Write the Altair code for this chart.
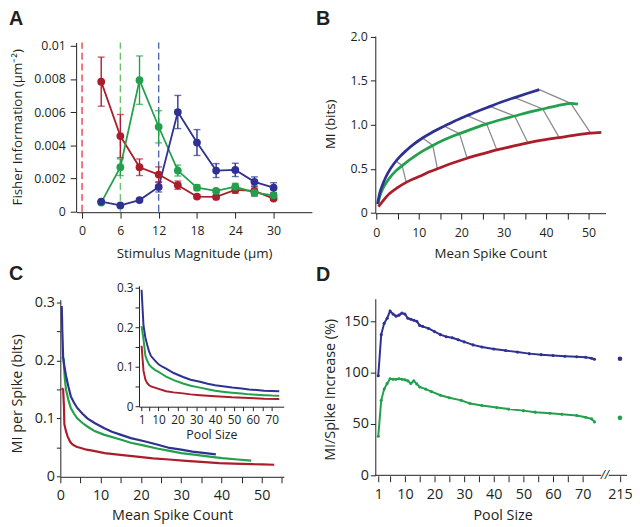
import altair as alt
import pandas as pd

OX, OY = 8, 8
W, H = 632, 517
FONT = "Open Sans"
INK = "#231f20"
RED, GREEN, BLUE = "#ac1d2b", "#22a04b", "#2e3192"
RED_D, GREEN_D, BLUE_D = "#e8404e", "#6cc070", "#4f66b5"
GRAY = "#8c8c8c"

# ---------------- Panel A: Fisher information vs stimulus magnitude
stim = [3, 6, 9, 12, 15, 18, 21, 24, 27, 30]
fi_red = [0.00784, 0.00456, 0.00268, 0.00224, 0.0016, 0.00091, 0.00089, 0.00131, 0.00125, 0.00079]
err_red = [0.00148, 0.0013, 0.0005, 0.00046, 0.00025, 0.0001, 0.0001, 0.0002, 0.0003, 0.0001]
fi_green = [0.00055, 0.00268, 0.00793, 0.00512, 0.00248, 0.00145, 0.00125, 0.00151, 0.00115, 0.00099]
err_green = [0.0001, 0.0005, 0.00146, 0.00097, 0.00033, 0.00017, 0.0001, 0.0002, 0.0002, 0.0001]
fi_blue = [0.00061, 0.00038, 0.0007, 0.00149, 0.00601, 0.00417, 0.00248, 0.00252, 0.0018, 0.00145]
err_blue = [0.0, 0.0, 0.0, 0.0003, 0.001, 0.00078, 0.00042, 0.0004, 0.0003, 0.0003]
thresholds = [0, 6, 12]

# ---------------- Panel B: MI vs mean spike count
bx_blue = [0.3, 0.8, 1.5, 2.2, 3.2, 4.2, 5.5, 7.0, 9.0, 10.9, 13.0, 16.0, 18.5, 21.4, 24.0, 26.8, 29.5, 32.6, 35.5, 38.4]
by_blue = [0.10, 0.22, 0.32, 0.40, 0.49, 0.56, 0.635, 0.705, 0.785, 0.85, 0.91, 0.985, 1.044, 1.105, 1.158, 1.21, 1.259, 1.31, 1.356, 1.40]
bx_green = [0.4, 0.85, 1.5, 2.2, 3.2, 4.5, 6.1, 7.0, 9.0, 10.9, 13.3, 16.0, 19.6, 23.0, 26.0, 29.5, 32.6, 36.0, 39.2, 42.5, 45.8, 47.5]
by_green = [0.10, 0.19, 0.27, 0.33, 0.40, 0.47, 0.535, 0.57, 0.64, 0.70, 0.765, 0.83, 0.90, 0.96, 1.01, 1.06, 1.10, 1.145, 1.18, 1.215, 1.245, 1.235]
bx_red = [0.5, 1.5, 3.2, 5.0, 7.05, 9.0, 10.9, 12.5, 14.4, 18.0, 21.4, 25.0, 28.4, 32.0, 35.7, 39.0, 43.1, 46.5, 50.5, 53.0]
by_red = [0.07, 0.13, 0.22, 0.285, 0.345, 0.39, 0.43, 0.465, 0.50, 0.565, 0.62, 0.67, 0.715, 0.755, 0.795, 0.825, 0.855, 0.88, 0.905, 0.915]
conn_x = [[4.6, 6.1, 7.05], [10.9, 13.3, 14.4], [16.0, 19.6, 21.4], [21.4, 26.0, 28.4],
          [26.8, 32.6, 35.7], [32.6, 39.2, 43.1], [38.4, 45.8, 50.5]]
conn_y = [[0.59, 0.535, 0.345], [0.85, 0.765, 0.50], [0.985, 0.90, 0.62], [1.105, 1.01, 0.715],
          [1.21, 1.10, 0.795], [1.31, 1.18, 0.855], [1.40, 1.245, 0.905]]

# ---------------- Panel C: MI per spike vs mean spike count
cx_blue = [0.35, 0.5, 0.7, 1.0, 1.4, 2.0, 2.6, 3.4, 4.2, 5.5, 6.7, 8.5, 10.8, 12.8, 14.9, 17.5, 20.6, 24.0, 27.1, 30.0, 32.8, 36.0, 38.6]
cy_blue = [0.294, 0.25, 0.205, 0.19, 0.174, 0.155, 0.138, 0.127, 0.118, 0.108, 0.100, 0.092, 0.0835, 0.077, 0.072, 0.066, 0.061, 0.055, 0.049, 0.046, 0.0426, 0.040, 0.038]
cx_green = [0.4, 0.8, 1.1, 1.4, 2.0, 2.6, 3.4, 4.2, 5.5, 6.7, 8.5, 10.8, 14.9, 17.5, 20.6, 24.0, 27.1, 30.0, 33.7, 37.0, 40.2, 44.0, 47.4]
cy_green = [0.206, 0.203, 0.17, 0.15, 0.132, 0.118, 0.108, 0.100, 0.092, 0.086, 0.078, 0.072, 0.0636, 0.058, 0.0534, 0.048, 0.0438, 0.040, 0.037, 0.034, 0.0313, 0.029, 0.027]
cx_red = [0.3, 0.7, 0.9, 1.0, 1.4, 1.8, 2.4, 3.0, 4.0, 5.1, 6.5, 8.3, 11.0, 14.9, 19.0, 23.0, 27.0, 31.2, 35.0, 39.4, 43.0, 47.5, 50.0, 53.1]
cy_red = [0.152, 0.150, 0.12, 0.09, 0.078, 0.069, 0.060, 0.055, 0.051, 0.049, 0.046, 0.0438, 0.040, 0.037, 0.034, 0.031, 0.029, 0.0267, 0.025, 0.0227, 0.022, 0.021, 0.0205, 0.020]

# inset: MI per spike vs pool size
ix_bg = [1, 2, 3, 4, 5, 6, 8, 10, 12, 14, 18, 23, 27, 32, 36, 40, 45, 49, 54, 58, 62, 66, 70, 74]
iy_blue = [0.295, 0.205, 0.174, 0.155, 0.138, 0.127, 0.116, 0.106, 0.100, 0.095, 0.084, 0.074, 0.067, 0.062, 0.057, 0.053, 0.050, 0.0475, 0.045, 0.0425, 0.041, 0.039, 0.0385, 0.038]
iy_green = [0.203, 0.17, 0.128, 0.115, 0.105, 0.100, 0.092, 0.087, 0.081, 0.075, 0.066, 0.0575, 0.052, 0.047, 0.043, 0.039, 0.036, 0.034, 0.032, 0.030, 0.029, 0.028, 0.027, 0.0265]
ix_red = [1, 2, 3, 4, 5, 6, 8, 10, 14, 18, 23, 27, 32, 40, 49, 58, 66, 74]
iy_red = [0.153, 0.09, 0.068, 0.058, 0.053, 0.050, 0.047, 0.044, 0.038, 0.035, 0.0325, 0.030, 0.028, 0.025, 0.0225, 0.021, 0.019, 0.018]

# ---------------- Panel D: MI/spike increase vs pool size
d_pool_blue = [1, 2, 3, 4, 5, 6, 7, 8, 9, 10, 11, 12, 13, 14, 15, 16, 18, 20, 22, 24, 26, 28, 30,
               33, 36, 40, 44, 48, 52, 56, 60, 64, 68, 71, 73, 74]
d_blue = [97, 137, 148, 153, 160, 157, 155, 156, 158, 157, 153, 152, 151, 150, 146, 145, 143, 140, 137, 135, 134, 132, 130,
          127, 125, 123, 121.5, 120, 118.5, 117.5, 116.7, 116, 115.5, 115, 114, 113]
d_pool_green = [1, 2, 3, 4, 5, 6, 7, 8, 9, 10, 11, 12, 13, 14, 15, 17, 19, 22, 25, 29,
                32, 36, 41, 45, 50, 54, 59, 63, 68, 71, 73, 74]
d_green = [38, 73, 84, 89.5, 94, 93.5, 93.5, 94, 93.5, 93, 92, 89.5, 92, 89, 86, 84, 81.5, 78, 75.5, 73,
           70, 68, 66, 64.5, 63, 61.5, 60.5, 59.5, 58.3, 56.5, 55, 52]
d_full_pool = [215, 215]
d_full_val = [113.5, 56]
d_full_col = [BLUE, GREEN]
BREAK_POS = 82.6  # plotting position of the 215 tick after the axis break


def lin_range(d0, d1, v1, p1, v2, p2, origin):
    k = (p2 - p1) / (v2 - v1)
    return [round(p1 + (d0 - v1) * k - origin, 2), round(p1 + (d1 - v1) * k - origin, 2)]


def qscale(domain, rng):
    return alt.Scale(domain=domain, range=rng, nice=False, zero=False)


def series_df(xs, ys, col, name):
    return pd.DataFrame({"x": xs, "y": ys, "col": col, "s": name})


tens = "datum.value % 10 == 0 ? datum.label : ''"
tenths = "datum.value == 0 ? '0' : (round(datum.value * 100) % 10 == 0 ? format(datum.value, '.1f') : '')"
col = alt.Color("col:N", scale=None)

# ================= Panel A =================
A_xs = qscale([-0.9, 36], lin_range(-0.9, 36, 0, 83, 30, 277, OX))
A_ys = qscale([0, 0.0102], lin_range(0, 0.0102, 0, 211, 0.01, 43, OY))
A_xa = alt.Axis(orient="bottom", offset=211.5 - OY - H, values=[0, 6, 12, 18, 24, 30],
                title="Stimulus Magnitude (µm)", titleY=253 - 211.5, titleBaseline="middle",
                labelFontSize=12.5, titleFontSize=13.5, tickSize=6, labelPadding=7)
A_ya = alt.Axis(orient="left", offset=-(77 - OX), values=[0, 0.002, 0.004, 0.006, 0.008, 0.01], format="~g",
                title="Fisher Information (µm⁻²)", titleX=18 - 77, titleY=125 - OY, titleBaseline="middle",
                labelFontSize=12.5, titleFontSize=13.5, tickSize=6, labelPadding=5)


def AX(field):
    return alt.X(f"{field}:Q", scale=A_xs, axis=A_xa)


def AY(field):
    return alt.Y(f"{field}:Q", scale=A_ys, axis=A_ya)


dfA = pd.concat([
    pd.DataFrame({"x": stim, "y": fi_red, "e": err_red, "col": RED, "s": "r"}),
    pd.DataFrame({"x": stim, "y": fi_green, "e": err_green, "col": GREEN, "s": "g"}),
    pd.DataFrame({"x": stim, "y": fi_blue, "e": err_blue, "col": BLUE, "s": "b"}),
])
dfA["lo"] = dfA["y"] - dfA["e"]
dfA["hi"] = dfA["y"] + dfA["e"]
dfA_thr = pd.DataFrame({"x": thresholds, "y0": [0, 0, 0], "y1": [0.0102] * 3, "col": [RED_D, GREEN_D, BLUE_D]})

panelA = alt.layer(
    alt.Chart(dfA_thr).mark_rule(strokeDash=[7, 4], strokeWidth=1.4).encode(
        x=AX("x"), y=AY("y0"), y2="y1:Q", color=col),
    alt.Chart(dfA).mark_line(strokeWidth=1.8).encode(x=AX("x"), y=AY("y"), color=col, detail="s:N"),
    alt.Chart(dfA).mark_rule(strokeWidth=1.4).encode(x=AX("x"), y=AY("lo"), y2="hi:Q", color=col),
    alt.Chart(dfA).mark_tick(orient="horizontal", size=7, thickness=1.4).encode(x=AX("x"), y=AY("hi"), color=col),
    alt.Chart(dfA).mark_tick(orient="horizontal", size=7, thickness=1.4).encode(x=AX("x"), y=AY("lo"), color=col),
    alt.Chart(dfA).mark_circle(size=62, opacity=1).encode(x=AX("x"), y=AY("y"), color=col),
)

# ================= Panel B =================
B_xs = qscale([-0.25, 54], lin_range(-0.25, 54, 0, 381, 50, 596, OX))
B_ys = qscale([0, 2.01], lin_range(0, 2.01, 0, 212, 2.0, 34, OY))
B_xa = alt.Axis(orient="bottom", offset=212.5 - OY - H, values=list(range(0, 51, 5)), labelExpr=tens,
                title="Mean Spike Count", titleY=253 - 212.5, titleBaseline="middle",
                labelFontSize=12.5, titleFontSize=13.5, tickSize=6, labelPadding=8)
B_ya = alt.Axis(orient="left", offset=-(380 - OX), values=[0, 0.5, 1.0, 1.5, 2.0],
                labelExpr="datum.value == 0 ? '0' : format(datum.value, '.1f')",
                title="MI (bits)", titleX=335 - 380, titleY=122 - OY, titleBaseline="middle",
                labelFontSize=12.5, titleFontSize=13.5, tickSize=5, labelPadding=3)
dfB = pd.concat([series_df(bx_red, by_red, RED, "r"), series_df(bx_green, by_green, GREEN, "g"),
                 series_df(bx_blue, by_blue, BLUE, "b")])
rows = []
for i, (cxs, cys) in enumerate(zip(conn_x, conn_y)):
    for k, (cx, cy) in enumerate(zip(cxs, cys)):
        rows.append({"x": cx, "y": cy, "cid": i, "k": k})
dfBc = pd.DataFrame(rows)
BX = alt.X("x:Q", scale=B_xs, axis=B_xa)
BY = alt.Y("y:Q", scale=B_ys, axis=B_ya)
panelB = alt.layer(
    alt.Chart(dfBc).mark_line(color=GRAY, strokeWidth=1.3).encode(x=BX, y=BY, detail="cid:N", order="k:O"),
    alt.Chart(dfB).mark_line(strokeWidth=2.8, interpolate="monotone").encode(x=BX, y=BY, color=col, detail="s:N"),
)

# ================= Panel C (main) =================
C_xs = qscale([0, 55.5], lin_range(0, 55.5, 0, 61, 50, 265, OX))
C_ys = qscale([0, 0.305], lin_range(0, 0.305, 0, 479, 0.3, 303, OY))
C_xa = alt.Axis(orient="bottom", offset=479.5 - OY - H, values=list(range(0, 56, 5)), labelExpr=tens,
                title="Mean Spike Count", titleY=523 - 479.5, titleBaseline="alphabetic",
                labelFontSize=14.5, titleFontSize=14.5, tickSize=6, labelPadding=6)
C_ya = alt.Axis(orient="left", offset=-(61 - OX), values=[round(i * 0.05, 2) for i in range(7)], labelExpr=tenths,
                title="MI per Spike (bits)", titleX=18 - 61, titleY=395 - OY, titleBaseline="middle",
                labelFontSize=14.5, titleFontSize=14.5, tickSize=4, labelPadding=2)
dfC = pd.concat([series_df(cx_red, cy_red, RED, "r"), series_df(cx_green, cy_green, GREEN, "g"),
                 series_df(cx_blue, cy_blue, BLUE, "b")])
panelC = alt.Chart(dfC).mark_line(strokeWidth=2.2).encode(
    x=alt.X("x:Q", scale=C_xs, axis=C_xa), y=alt.Y("y:Q", scale=C_ys, axis=C_ya), color=col, detail="s:N")

# ================= Panel C (inset) =================
I_xs = qscale([-0.36, 76.4], lin_range(-0.36, 76.4, 1, 143.3, 70, 275.1, OX))
I_ys = qscale([0, 0.305], lin_range(0, 0.305, 0, 408, 0.3, 288, OY))
I_xa = alt.Axis(orient="bottom", offset=408.5 - OY - H, values=[1] + list(range(5, 71, 5)),
                labelExpr="datum.value == 1 || datum.value % 10 == 0 ? datum.label : ''",
                title="Pool Size", titleY=440.5 - 408.5, titleBaseline="alphabetic",
                labelFontSize=12, titleFontSize=12.5, tickSize=4, labelPadding=4)
I_ya = alt.Axis(orient="left", offset=-(140.7 - OX), values=[round(i * 0.05, 2) for i in range(7)], labelExpr=tenths,
                title=None, labelFontSize=12, tickSize=4, labelPadding=2)
dfI = pd.concat([series_df(ix_red, iy_red, RED, "r"), series_df(ix_bg, iy_green, GREEN, "g"),
                 series_df(ix_bg, iy_blue, BLUE, "b")])
panelI = alt.Chart(dfI).mark_line(strokeWidth=2.0).encode(
    x=alt.X("x:Q", scale=I_xs, axis=I_xa), y=alt.Y("y:Q", scale=I_ys, axis=I_ya), color=col, detail="s:N")

# ================= Panel D =================
D_xs = qscale([0, 86], lin_range(0, 86, 1, 383, 70, 590, OX))
D_ys = qscale([0, 172], lin_range(0, 172, 0, 478, 150, 322, OY))
D_xa = alt.Axis(orient="bottom", offset=478.5 - OY - H, domain=False, values=[1] + list(range(5, 71, 5)) + [BREAK_POS],
                labelExpr=f"datum.value == {BREAK_POS} ? '215' : ((datum.value == 1 || datum.value % 10 == 0) ? datum.label : '')",
                title="Pool Size", titleY=523 - 478.5, titleBaseline="alphabetic",
                labelFontSize=14.5, titleFontSize=14.5, tickSize=6, labelPadding=6)
D_ya = alt.Axis(orient="left", offset=-(380 - OX), values=[0, 50, 100, 150],
                title="MI/Spike Increase (%)", titleX=335 - 380, titleY=391 - OY, titleBaseline="middle",
                labelFontSize=14.5, titleFontSize=14.5, tickSize=5, labelPadding=2)


def DX(field):
    return alt.X(f"{field}:Q", scale=D_xs, axis=D_xa)


DY = alt.Y("y:Q", scale=D_ys, axis=D_ya)

dfD = pd.concat([series_df(d_pool_green, d_green, GREEN, "g"), series_df(d_pool_blue, d_blue, BLUE, "b")])
dfDf = pd.DataFrame({"x": d_full_pool, "y": d_full_val, "col": d_full_col})
dfDax = pd.DataFrame({"a": [0, 78.8], "b": [76.3, 85.0], "y": [0, 0]})
dfDbr = pd.DataFrame({"x": [77.5], "y": [0], "t": ["//"]})
panelD = alt.layer(
    alt.Chart(dfD).mark_line(strokeWidth=2.0).encode(x=DX("x"), y=DY, color=col, detail="s:N"),
    alt.Chart(dfD).mark_circle(size=10, opacity=1).encode(x=DX("x"), y=DY, color=col),
    alt.Chart(dfDf).transform_calculate(pos=f"datum.x == 215 ? {BREAK_POS} : datum.x").mark_circle(size=22, opacity=1).encode(
        x=DX("pos"), y=DY, color=col),
    alt.Chart(dfDax).mark_rule(color=INK, strokeWidth=1).encode(x=DX("a"), x2="b:Q", y=DY),
    alt.Chart(dfDbr).mark_text(font=FONT, fontSize=12, color=INK, baseline="middle", fontStyle="italic").encode(
        x=DX("x"), y=DY, text="t:N"),
)


# ================= panel letters =================
def letter(ch, px, py):
    return alt.Chart(pd.DataFrame({"t": [ch]})).mark_text(
        font="Liberation Sans", fontWeight="bold", fontSize=20, align="left", baseline="alphabetic", color=INK
    ).encode(text="t:N", x=alt.value(px), y=alt.value(py))


letters = [letter("A", 1, 14), letter("B", 312, 14), letter("C", 1, 272.5), letter("D", 312, 273)]

chart = alt.layer(panelA, panelB, panelC, panelI, panelD, *letters).resolve_scale(
    x="independent", y="independent"
).properties(
    width=W, height=H, padding=0, autosize=alt.AutoSizeParams(type="none")
).configure_view(stroke=None).configure_axis(
    grid=False, labelFont=FONT, titleFont=FONT, labelColor=INK, titleColor=INK,
    domainColor=INK, tickColor=INK, titleFontWeight="normal", labelFlush=False, labelOverlap=False,
    domainWidth=1, tickWidth=1,
)

chart.save("out.html", embed_options={"renderer": "svg", "actions": False})
